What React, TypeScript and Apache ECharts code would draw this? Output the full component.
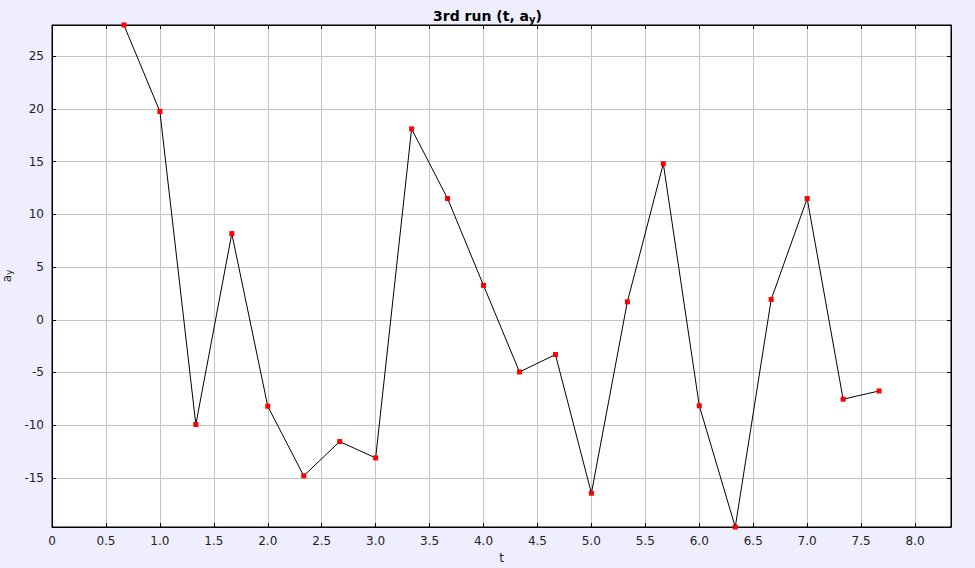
import React, { useEffect, useRef } from "react";
import * as echarts from "echarts";

const tValues = [
  0.6667, 1.0, 1.3333, 1.6667, 2.0, 2.3333, 2.6667, 3.0, 3.3333, 3.6667, 4.0,
  4.3333, 4.6667, 5.0, 5.3333, 5.6667, 6.0, 6.3333, 6.6667, 7.0, 7.3333, 7.6667,
];
const ayValues = [
  27.95, 19.75, -9.93, 8.17, -8.2, -14.8, -11.55, -13.1, 18.1, 11.5, 3.26,
  -4.95, -3.3, -16.45, 1.7, 14.8, -8.15, -19.65, 1.93, 11.5, -7.53, -6.75,
];
const xMin = 0;
const xMax = 8.3333;
const xInterval = 0.5;
const yMin = -19.65;
const yMax = 27.95;
const ySplitNumber = 10;

const FONT = "DejaVu Sans";

export default function App() {
  const ref = useRef<HTMLDivElement>(null);
  useEffect(() => {
    if (!ref.current) return;
    const chart = echarts.init(ref.current, undefined, { renderer: "svg" });
    const data = tValues.map((t, i) => [t, ayValues[i]]);
    const tickStyle = { show: true, inside: true, length: 4, lineStyle: { color: "#000", width: 1 } };
    const lineStyle = { show: true, onZero: false, lineStyle: { color: "#000", width: 1 } };
    chart.setOption({
      animation: false,
      backgroundColor: "#EEEEFF",
      title: {
        text: "3rd run (t, a{sub|y})",
        left: "center",
        top: 2,
        textStyle: {
          fontFamily: FONT,
          fontSize: 14,
          fontWeight: "bold",
          color: "#000",
          rich: {
            sub: { fontFamily: FONT, fontSize: 10, fontWeight: "bold", color: "#000", padding: [7, 0, 0, 0] },
          },
        },
      },
      grid: {
        left: 52,
        top: 25,
        right: 24,
        bottom: 41,
        show: true,
        containLabel: false,
        outerBoundsMode: "none",
        backgroundColor: "#FFFFFF",
        borderColor: "#000",
        borderWidth: 1,
      },
      xAxis: [
        {
          type: "value",
          min: xMin,
          max: xMax,
          interval: xInterval,
          name: "t",
          nameLocation: "middle",
          nameGap: 24,
          nameTextStyle: { fontFamily: FONT, fontSize: 12, color: "#222" },
          axisLine: lineStyle,
          axisTick: tickStyle,
          splitLine: { show: true, lineStyle: { color: "#C4C4C4", width: 1 } },
          axisLabel: {
            fontFamily: FONT,
            fontSize: 12,
            color: "#222",
            margin: 8,
            showMaxLabel: false,
            formatter: (v: number) => (v === 0 ? "0" : v.toFixed(1)),
          },
        },
        {
          type: "value",
          position: "top",
          min: xMin,
          max: xMax,
          interval: xInterval,
          axisLine: lineStyle,
          axisTick: tickStyle,
          splitLine: { show: false },
          axisLabel: { show: false },
        },
      ],
      yAxis: [
        {
          type: "value",
          min: yMin,
          max: yMax,
          splitNumber: ySplitNumber,
          name: "a{sub|y}",
          nameLocation: "middle",
          nameGap: 35,
          nameRotate: 90,
          nameTextStyle: {
            fontFamily: FONT,
            fontSize: 12,
            color: "#222",
            rich: { sub: { fontFamily: FONT, fontSize: 9, color: "#222", padding: [5, 0, 0, 0] } },
          },
          axisLine: lineStyle,
          axisTick: tickStyle,
          splitLine: { show: true, lineStyle: { color: "#C4C4C4", width: 1 } },
          axisLabel: {
            fontFamily: FONT,
            fontSize: 12,
            color: "#222",
            margin: 8,
            showMinLabel: false,
            showMaxLabel: false,
          },
        },
        {
          type: "value",
          position: "right",
          min: yMin,
          max: yMax,
          splitNumber: ySplitNumber,
          axisLine: lineStyle,
          axisTick: tickStyle,
          splitLine: { show: false },
          axisLabel: { show: false },
        },
      ],
      series: [
        {
          type: "line",
          data,
          xAxisIndex: 0,
          yAxisIndex: 0,
          clip: false,
          lineStyle: { color: "#000", width: 1 },
          symbol: "rect",
          symbolSize: 5,
          itemStyle: { color: "#FF0000" },
          emphasis: { disabled: true },
        },
      ],
    });
    return () => chart.dispose();
  }, []);
  return (
    <div
      ref={ref}
      style={{ position: "fixed", left: 0, top: 0, width: 975, height: 568 }}
    />
  );
}
